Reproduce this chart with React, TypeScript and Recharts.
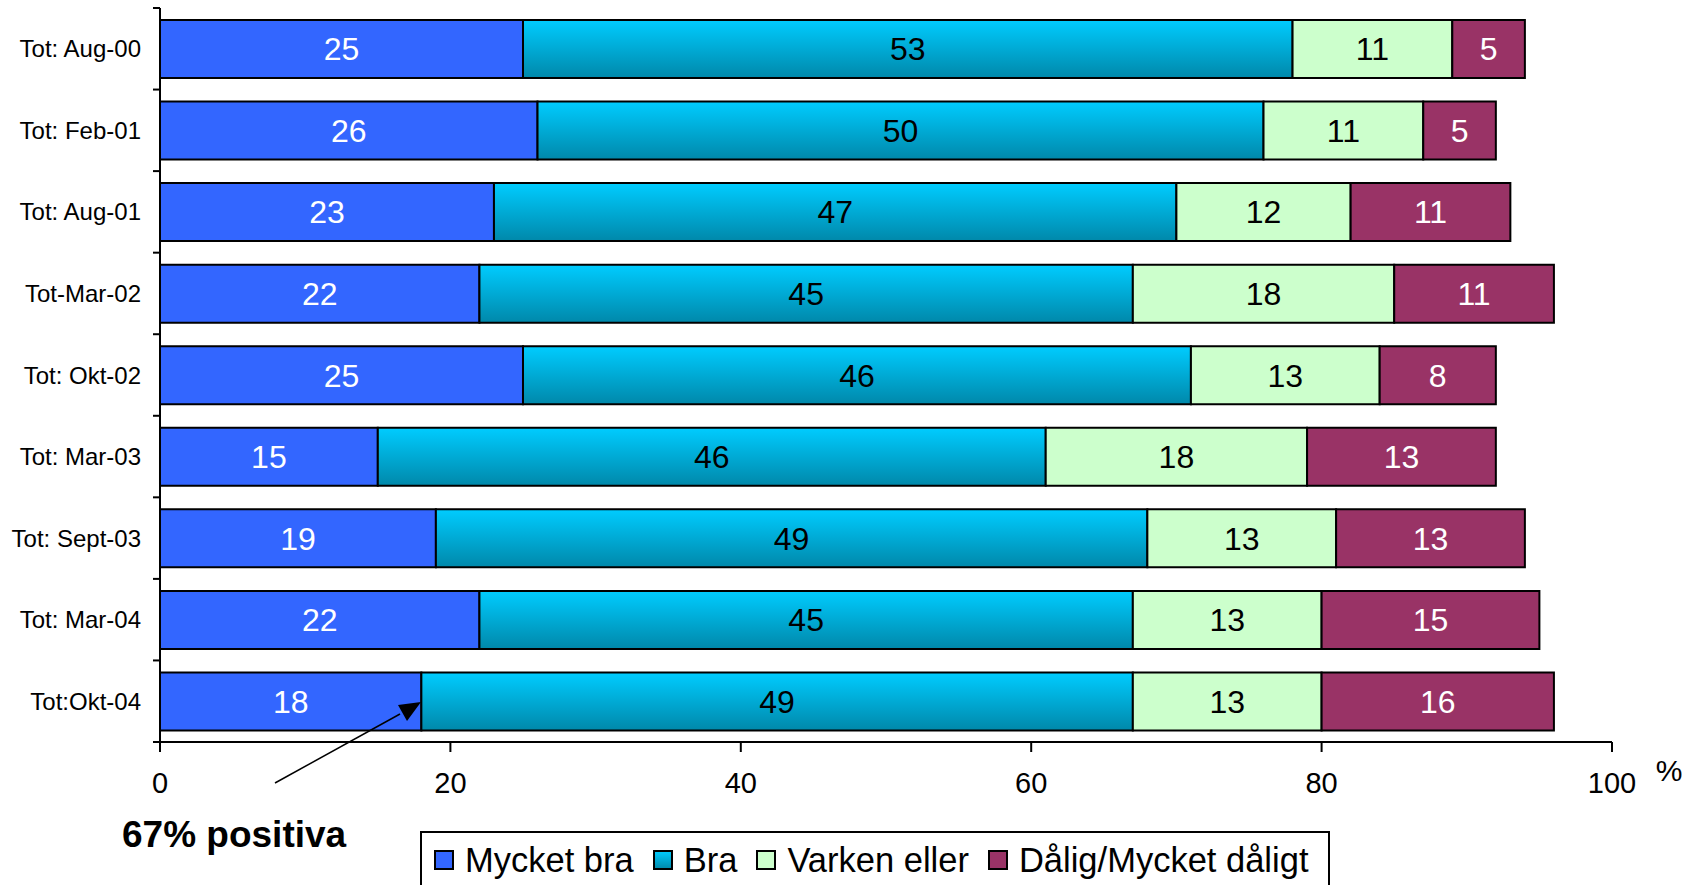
import { Bar, BarChart, LabelList, XAxis, YAxis } from 'recharts'

const categories = [
  'Tot: Aug-00',
  'Tot: Feb-01',
  'Tot: Aug-01',
  'Tot-Mar-02',
  'Tot: Okt-02',
  'Tot: Mar-03',
  'Tot: Sept-03',
  'Tot: Mar-04',
  'Tot:Okt-04',
]
const mycketBra = [25, 26, 23, 22, 25, 15, 19, 22, 18]
const bra = [53, 50, 47, 45, 46, 46, 49, 45, 49]
const varkenEller = [11, 11, 12, 18, 13, 18, 13, 13, 13]
const dalig = [5, 5, 11, 11, 8, 13, 13, 15, 16]
const xTicks = [0, 20, 40, 60, 80, 100]

const seriesNames = ['Mycket bra', 'Bra', 'Varken eller', 'Dålig/Mycket dåligt']
const SERIES = [
  { key: 'mycketBra', name: seriesNames[0], fill: '#3366ff', swatch: '#3366ff', label: '#ffffff' },
  { key: 'bra', name: seriesNames[1], fill: 'url(#braGradient)', swatch: 'url(#braGradientSw)', label: '#000000' },
  { key: 'varkenEller', name: seriesNames[2], fill: '#ccffcc', swatch: '#ccffcc', label: '#000000' },
  { key: 'dalig', name: seriesNames[3], fill: '#993366', swatch: '#993366', label: '#ffffff' },
]

const data = categories.map((cat, i) => ({
  cat,
  mycketBra: mycketBra[i],
  bra: bra[i],
  varkenEller: varkenEller[i],
  dalig: dalig[i],
}))

const FONT = '"Liberation Sans", Arial, sans-serif'
const W = 1692
const H = 885
const TOP = 8
const AXIS_Y = 742
const PLOT_LEFT = 160
const BAND = (AXIS_Y - TOP) / categories.length

function CategoryTick(props: any) {
  const { y, payload, index } = props
  const last = index === categories.length - 1
  return (
    <g>
      <line x1={PLOT_LEFT - 7} x2={PLOT_LEFT} y1={y - BAND / 2} y2={y - BAND / 2} stroke="#000" strokeWidth={2} />
      {last ? (
        <line x1={PLOT_LEFT - 7} x2={PLOT_LEFT} y1={y + BAND / 2} y2={y + BAND / 2} stroke="#000" strokeWidth={2} />
      ) : null}
      <text x={PLOT_LEFT - 19} y={y} textAnchor="end" dominantBaseline="central" fontSize={24} fill="#000" fontFamily={FONT}>
        {payload.value}
      </text>
    </g>
  )
}

export default function App() {
  return (
    <div style={{ position: 'absolute', left: 0, top: 0, width: W, height: H, background: '#fff', fontFamily: FONT }}>
      <BarChart
        width={W}
        height={H}
        data={data}
        layout="vertical"
        margin={{ top: TOP, right: 80, left: 0, bottom: 0 }}
        barSize={58}
      >
        <defs>
          <linearGradient id="braGradient" x1="0" x2="0" y1="0" y2="1">
            <stop offset="0%" stopColor="#00ccff" />
            <stop offset="100%" stopColor="#0088aa" />
          </linearGradient>
        </defs>
        <XAxis
          type="number"
          domain={[0, 100]}
          ticks={xTicks}
          height={H - AXIS_Y - TOP + 8}
          axisLine={{ stroke: '#000', strokeWidth: 2 }}
          tickLine={{ stroke: '#000', strokeWidth: 2 }}
          tickSize={10}
          tickMargin={20}
          tick={{ fill: '#000', fontSize: 29, fontFamily: FONT }}
        />
        <YAxis
          type="category"
          dataKey="cat"
          width={PLOT_LEFT}
          axisLine={{ stroke: '#000', strokeWidth: 2 }}
          tickLine={false}
          tick={<CategoryTick />}
          interval={0}
        />
        {SERIES.map((s) => (
          <Bar
            key={s.key}
            dataKey={s.key}
            name={s.name}
            stackId="a"
            fill={s.fill}
            stroke="#000"
            strokeWidth={2}
            isAnimationActive={false}
          >
            <LabelList dataKey={s.key} position="center" fill={s.label} fontSize={32} fontFamily={FONT} />
          </Bar>
        ))}
      </BarChart>

      <svg style={{ position: 'absolute', left: 0, top: 0 }} width={W} height={H}>
        <defs>
          <linearGradient id="braGradientSw" x1="0" x2="0" y1="0" y2="1">
            <stop offset="0%" stopColor="#00ccff" />
            <stop offset="100%" stopColor="#0088aa" />
          </linearGradient>
        </defs>
        <line x1={275} y1={783} x2={400} y2={714} stroke="#000" strokeWidth={1.5} />
        <path d="M421,702 L398,705 L407,721 z" fill="#000" />
        <text x={122} y={834} dominantBaseline="central" fontSize={37} fontWeight="bold" fill="#000" fontFamily={FONT}>
          67% positiva
        </text>
        <text x={1669} y={770} textAnchor="middle" dominantBaseline="central" fontSize={30} fill="#000" fontFamily={FONT}>
          %
        </text>
      </svg>

      <div
        style={{
          position: 'absolute',
          left: 420,
          top: 831,
          width: 910,
          height: 70,
          border: '2px solid #000',
          display: 'flex',
          alignItems: 'flex-start',
          paddingTop: 8,
          paddingLeft: 12,
          boxSizing: 'border-box',
          fontSize: 34.5,
          lineHeight: '38px',
          whiteSpace: 'nowrap',
        }}
      >
        {SERIES.map((s) => (
          <div key={s.key} style={{ display: 'flex', alignItems: 'center', marginRight: 19 }}>
            <svg width={20} height={20} style={{ marginRight: 11 }}>
              <rect x={1} y={1} width={18} height={18} fill={s.swatch} stroke="#000" strokeWidth={2} />
            </svg>
            <span>{s.name}</span>
          </div>
        ))}
      </div>
    </div>
  )
}
